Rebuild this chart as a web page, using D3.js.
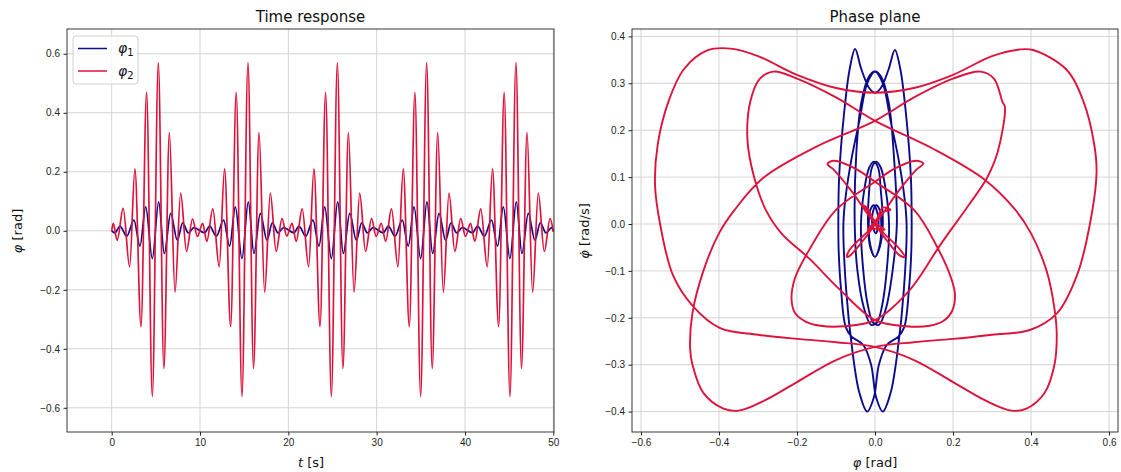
<!DOCTYPE html>
<html>
<head>
<meta charset="utf-8">
<script src="https://d3js.org/d3.v7.min.js"></script>
<style>
  html, body { margin: 0; padding: 0; background: #fff; }
  svg { display: block; font-family: "DejaVu Sans", sans-serif; }
  .tick text { font-size: 10px; fill: #222; }
  .tick line { stroke: #222; }
  .domain { display: none; }
</style>
<title>Time response / Phase plane</title>
</head>
<body>
<svg id="chart" width="1121" height="472"></svg>
<script>
// --- time response, local extrema ---
var time2 = [0, 0.18, 0.62, 1.30, 2.03, 2.63, 3.32, 3.95, 4.60, 5.28, 5.91, 6.53, 7.17, 7.81, 8.47, 9.15, 9.70,
  10.30, 10.77, 11.45, 12.17, 12.78, 13.47, 14.10, 14.75, 15.43, 16.06, 16.68, 17.32, 17.96, 18.62, 19.28, 19.82,
  20.42, 20.89, 21.57, 22.30, 22.90, 23.59, 24.22, 24.87, 25.55, 26.18, 26.80, 27.44, 28.08, 28.74, 29.42, 29.95,
  30.52, 31.02, 31.68, 32.41, 33.01, 33.70, 34.33, 34.98, 35.66, 36.29, 36.91, 37.55, 38.19, 38.85, 39.52, 40.06,
  40.63, 41.11, 41.79, 42.52, 43.12, 43.81, 44.44, 45.09, 45.77, 46.40, 47.02, 47.66, 48.30, 48.98, 49.64, 50.0];
var phi2 = [0, 0.025, -0.032, 0.076, -0.122, 0.21, -0.325, 0.47, -0.562, 0.57, -0.467, 0.333, -0.208, 0.128, -0.07, 0.04, -0.019,
  0.025, -0.036, 0.074, -0.122, 0.21, -0.325, 0.469, -0.562, 0.57, -0.467, 0.333, -0.208, 0.128, -0.07, 0.041, -0.018,
  0.025, -0.036, 0.074, -0.122, 0.21, -0.325, 0.469, -0.562, 0.57, -0.467, 0.333, -0.208, 0.128, -0.07, 0.041, -0.019,
  0.025, -0.035, 0.074, -0.122, 0.21, -0.325, 0.469, -0.562, 0.57, -0.467, 0.333, -0.208, 0.128, -0.07, 0.041, -0.019,
  0.025, -0.035, 0.074, -0.122, 0.21, -0.325, 0.469, -0.562, 0.57, -0.467, 0.333, -0.208, 0.128, -0.07, 0.041, -0.004];

var time1 = [0, 0.37, 0.94, 1.70, 2.52, 3.20, 3.85, 4.60, 5.32, 5.96, 6.68, 7.43, 8.04, 8.68, 9.32,
  10.52, 11.09, 11.85, 12.67, 13.35, 14.00, 14.75, 15.47, 16.11, 16.83, 17.58, 18.19, 18.83, 19.47,
  20.64, 21.21, 21.97, 22.79, 23.47, 24.12, 24.87, 25.59, 26.23, 26.95, 27.70, 28.31, 28.95, 29.59,
  30.75, 31.32, 32.08, 32.90, 33.58, 34.23, 34.98, 35.70, 36.34, 37.06, 37.81, 38.42, 39.06, 39.70,
  40.86, 41.43, 42.19, 43.01, 43.69, 44.34, 45.09, 45.81, 46.45, 47.17, 47.92, 48.53, 49.17, 49.81, 50.0];
var phi1 = [0, -0.007, 0.016, -0.018, 0.036, -0.052, 0.081, -0.094, 0.098, -0.077, 0.059, -0.032, 0.027, -0.007, 0.011,
  -0.007, 0.016, -0.018, 0.036, -0.052, 0.081, -0.094, 0.098, -0.077, 0.059, -0.032, 0.027, -0.007, 0.011,
  -0.007, 0.016, -0.018, 0.036, -0.052, 0.081, -0.094, 0.098, -0.077, 0.059, -0.032, 0.027, -0.007, 0.011,
  -0.007, 0.016, -0.018, 0.036, -0.052, 0.081, -0.094, 0.098, -0.077, 0.059, -0.032, 0.027, -0.007, 0.011,
  -0.007, 0.016, -0.018, 0.036, -0.052, 0.081, -0.094, 0.098, -0.077, 0.059, -0.032, 0.027, -0.007, 0.011, 0.0];

// --- phase plane: points traced along one beat of the closed trajectory ---
var planePhi2 = [0.0, 0.025, 0.005, -0.02, -0.032, -0.02, 0.0, 0.035, 0.065, 0.076, 0.065, 0.0, -0.06, -0.105, -0.122, -0.105,
  -0.05, 0.0, 0.1, 0.16, 0.195, 0.205, 0.198, 0.175, 0.14, 0.08, 0.0, -0.09, -0.167, -0.24, -0.28, -0.31, -0.327, -0.32, -0.295,
  -0.26, -0.2, -0.1, 0.0, 0.15, 0.282, 0.36, 0.4, 0.44, 0.46, 0.466, 0.46, 0.435, 0.39, 0.35, 0.28, 0.2, 0.1, 0.0, -0.1,
  -0.2, -0.3, -0.397, -0.467, -0.518, -0.551, -0.564, -0.557, -0.53, -0.49, -0.43, -0.37, -0.3, -0.2, -0.1, 0.0,
  0.1, 0.2, 0.3, 0.37, 0.405, 0.49, 0.535, 0.562, 0.568, 0.551, 0.518, 0.467, 0.397, 0.3, 0.2, 0.1, 0.0, -0.1, -0.2,
  -0.28, -0.35, -0.39, -0.44, -0.468, -0.474, -0.468, -0.44, -0.4, -0.36, -0.287, -0.15, 0.0, 0.1, 0.2, 0.27, 0.305,
  0.327, 0.333, 0.315, 0.287, 0.24, 0.167, 0.09, 0.0, -0.08, -0.14, -0.178, -0.205, -0.214, -0.205, -0.165, -0.1, 0.0, 0.05,
  0.105, 0.124, 0.105, 0.06, 0.0, -0.065, -0.072, -0.065, -0.035, 0.0, 0.02, 0.04, 0.02, -0.005, -0.019];
var planeRate2 = [-0.01, -0.012, 0.0, 0.03, 0.04, 0.035, 0.0, -0.04, -0.068, -0.07, -0.055, 0.0, 0.07, 0.115, 0.128, 0.135,
  0.118, 0.09, 0.03, -0.05, -0.115, -0.15, -0.185, -0.207, -0.217, -0.218, -0.205, -0.14, -0.075, -0.02, 0.03, 0.1, 0.18, 0.26, 0.31,
  0.325, 0.31, 0.27, 0.22, 0.16, 0.094, 0.03, -0.02, -0.1, -0.18, -0.237, -0.3, -0.36, -0.393, -0.398, -0.375, -0.337,
  -0.29, -0.262, -0.252, -0.245, -0.236, -0.222, -0.175, -0.109, 0.0, 0.083, 0.17, 0.26, 0.33, 0.37, 0.374, 0.358,
  0.318, 0.29, 0.28,
  0.29, 0.318, 0.358, 0.372, 0.371, 0.33, 0.26, 0.17, 0.11, 0.0, -0.109, -0.19, -0.226, -0.236, -0.245, -0.252, -0.262,
  -0.29, -0.337, -0.375, -0.398, -0.393, -0.36, -0.3, -0.265, -0.19, -0.1, -0.02, 0.03, 0.098, 0.165, 0.22, 0.27,
  0.31, 0.325, 0.31, 0.26, 0.25, 0.155, 0.098, 0.04, -0.045, -0.14, -0.205, -0.218, -0.217, -0.208, -0.19, -0.16, -0.115, -0.05,
  0.03, 0.09, 0.118, 0.135, 0.129, 0.115, 0.07, 0.0, -0.055, -0.07, -0.068, -0.04, 0.0, 0.035, 0.03, 0.025, 0.0, -0.012];

var planePhi1 = [0.002, -0.007, -0.004, 0.003, 0.012, 0.016, 0.012, 0.0, -0.012, -0.018, -0.015, -0.008, 0.003, 0.015, 0.028,
  0.036, 0.03, 0.018, 0.005, -0.01, -0.028, -0.045, -0.052, -0.048, -0.035, -0.015, 0.0, 0.02, 0.04, 0.06, 0.075, 0.081,
  0.074, 0.058, 0.04, 0.02, 0.003, -0.01, -0.03, -0.06, -0.075, -0.087, -0.093, -0.094, -0.092, -0.08, -0.065, -0.051,
  -0.035, -0.015, 0.0,
  0.015, 0.035, 0.051, 0.065, 0.08, 0.092, 0.094, 0.093, 0.087, 0.075, 0.06, 0.03, 0.01, -0.003, -0.02, -0.04, -0.058,
  -0.074, -0.081, -0.075, -0.06, -0.04, -0.02, 0.0, 0.015, 0.035, 0.048, 0.056, 0.045, 0.028, 0.01, -0.005, -0.018,
  -0.03, -0.036, -0.028, -0.015, -0.003, 0.008, 0.015, 0.02, 0.012, 0.0, -0.012, -0.016, -0.012, -0.003, 0.004, 0.009];
var planeRate1 = [-0.02, 0.0, 0.03, 0.04, 0.03, 0.0, -0.045, -0.07, -0.05, 0.0, 0.07, 0.12, 0.133, 0.12, 0.07,
  0.0, -0.1, -0.175, -0.21, -0.215, -0.18, -0.1, 0.0, 0.15, 0.26, 0.315, 0.325, 0.3, 0.22, 0.14, 0.06, 0.0,
  -0.14, -0.27, -0.36, -0.4, -0.37, -0.3, -0.258, -0.24, -0.22, -0.14, -0.06, 0.0, 0.1, 0.23, 0.33, 0.373,
  0.33, 0.29, 0.28,
  0.29, 0.33, 0.371, 0.33, 0.23, 0.1, 0.0, -0.06, -0.14, -0.22, -0.24, -0.258, -0.3, -0.37, -0.4, -0.36, -0.27,
  -0.14, 0.0, 0.06, 0.14, 0.22, 0.3, 0.325, 0.315, 0.26, 0.15, 0.0, -0.1, -0.18, -0.215, -0.21, -0.175,
  -0.1, 0.0, 0.07, 0.12, 0.133, 0.12, 0.07, 0.0, -0.05, -0.07, -0.045, 0.0, 0.03, 0.04, 0.03, 0.0];

var xTicksT = [0, 10, 20, 30, 40, 50];
var yTicksT = [-0.6, -0.4, -0.2, 0.0, 0.2, 0.4, 0.6];
var xTicksP = [-0.6, -0.4, -0.2, 0.0, 0.2, 0.4, 0.6];
var yTicksP = [-0.4, -0.3, -0.2, -0.1, 0.0, 0.1, 0.2, 0.3, 0.4];

var blue = "#0b0b8c", red = "#dc143c";
var svg = d3.select("#chart");

function panel(box, xDom, yDom, xt, yt, title) {
  var x = d3.scaleLinear().domain(xDom).range([box.x0, box.x1]);
  var y = d3.scaleLinear().domain(yDom).range([box.y1, box.y0]);
  var g = svg.append("g");
  // grid
  g.selectAll(".gx").data(xt).enter().append("line")
    .attr("x1", d => x(d)).attr("x2", d => x(d)).attr("y1", box.y0).attr("y2", box.y1)
    .style("stroke", "#d3d3d3").style("stroke-width", 1);
  g.selectAll(".gy").data(yt).enter().append("line")
    .attr("y1", d => y(d)).attr("y2", d => y(d)).attr("x1", box.x0).attr("x2", box.x1)
    .style("stroke", "#d3d3d3").style("stroke-width", 1);
  var fmt = Number.isInteger(xt[1]) ? d3.format("d") : d3.format(".1f");
  g.append("g").attr("transform", "translate(0," + box.y1 + ")")
    .call(d3.axisBottom(x).tickValues(xt).tickFormat(fmt).tickSizeInner(3.5).tickSizeOuter(0).tickPadding(3.5));
  g.append("g").attr("transform", "translate(" + box.x0 + ",0)")
    .call(d3.axisLeft(y).tickValues(yt).tickFormat(d3.format(".1f")).tickSizeInner(3.5).tickSizeOuter(0).tickPadding(3.5));
  svg.append("text").attr("x", (box.x0 + box.x1) / 2).attr("y", 22)
    .attr("text-anchor", "middle").style("font-size", "15px").style("fill", "#111").text(title);
  var clip = "clip" + Math.round(box.x0);
  svg.append("clipPath").attr("id", clip).append("rect")
    .attr("x", box.x0).attr("y", box.y0).attr("width", box.x1 - box.x0).attr("height", box.y1 - box.y0);
  var plot = svg.append("g").attr("clip-path", "url(#" + clip + ")");
  return {x: x, y: y, plot: plot, box: box};
}

function frame(p) {
  svg.append("rect").attr("x", p.box.x0).attr("y", p.box.y0)
    .attr("width", p.box.x1 - p.box.x0).attr("height", p.box.y1 - p.box.y0)
    .style("fill", "none").style("stroke", "#222").style("stroke-width", 0.9);
}

// left: time response
var L = panel({x0: 67, x1: 554, y0: 29, y1: 432}, [-5.06, 50.08], [-0.682, 0.684], xTicksT, yTicksT, "Time response");
var lineT = d3.line().curve(d3.curveMonotoneX);
L.plot.append("path").datum(time1.map((t, i) => [L.x(t), L.y(phi1[i])]))
  .attr("d", lineT).style("fill", "none").style("stroke", blue).style("stroke-width", 1.7);
L.plot.append("path").datum(time2.map((t, i) => [L.x(t), L.y(phi2[i])]))
  .attr("d", lineT).style("fill", "none").style("stroke", red).style("stroke-width", 1.7);
frame(L);

// right: phase plane
var R = panel({x0: 632, x1: 1118, y0: 29, y1: 432}, [-0.623, 0.623], [-0.4435, 0.4158], xTicksP, yTicksP, "Phase plane");
var lineP = d3.line().curve(d3.curveCatmullRomClosed.alpha(0.5));
R.plot.append("path").datum(planePhi1.map((p, i) => [R.x(p), R.y(planeRate1[i])]))
  .attr("d", lineP).style("fill", "none").style("stroke", blue).style("stroke-width", 1.9);
R.plot.append("path").datum(planePhi2.map((p, i) => [R.x(p), R.y(planeRate2[i])]))
  .attr("d", lineP).style("fill", "none").style("stroke", red).style("stroke-width", 1.9);
frame(R);

// axis labels
function mathLabel(x, y, rot, parts) {
  var t = svg.append("text").attr("text-anchor", "middle").style("font-size", "13px").style("fill", "#111")
    .attr("transform", "translate(" + x + "," + y + ")" + (rot ? " rotate(-90)" : ""));
  parts.forEach(function (p) {
    t.append("tspan").text(p[0]).style("font-style", p[1] ? "italic" : "normal");
  });
}
mathLabel(311, 467, false, [["t", true], [" [s]", false]]);
mathLabel(22, 231, true, [["φ", true], [" [rad]", false]]);
mathLabel(875, 467, false, [["φ", true], [" [rad]", false]]);
mathLabel(589, 231, true, [["φ̇", true], [" [rad/s]", false]]);

// legend
var lg = svg.append("g");
lg.append("rect").attr("x", 73).attr("y", 36).attr("width", 65).attr("height", 48).attr("rx", 3)
  .style("fill", "#fff").style("fill-opacity", 0.8).style("stroke", "#d0d0d0");
[["1", blue, 48.5], ["2", red, 71]].forEach(function (d) {
  lg.append("line").attr("x1", 78).attr("x2", 107).attr("y1", d[2]).attr("y2", d[2])
    .style("stroke", d[1]).style("stroke-width", 1.5);
  var t = lg.append("text").attr("x", 118).attr("y", d[2] + 4.5).style("font-size", "14px").style("fill", "#111");
  t.append("tspan").text("φ").style("font-style", "italic");
  t.append("tspan").text(d[0]).attr("dy", 3).style("font-size", "10px");
});
</script>
</body>
</html>
